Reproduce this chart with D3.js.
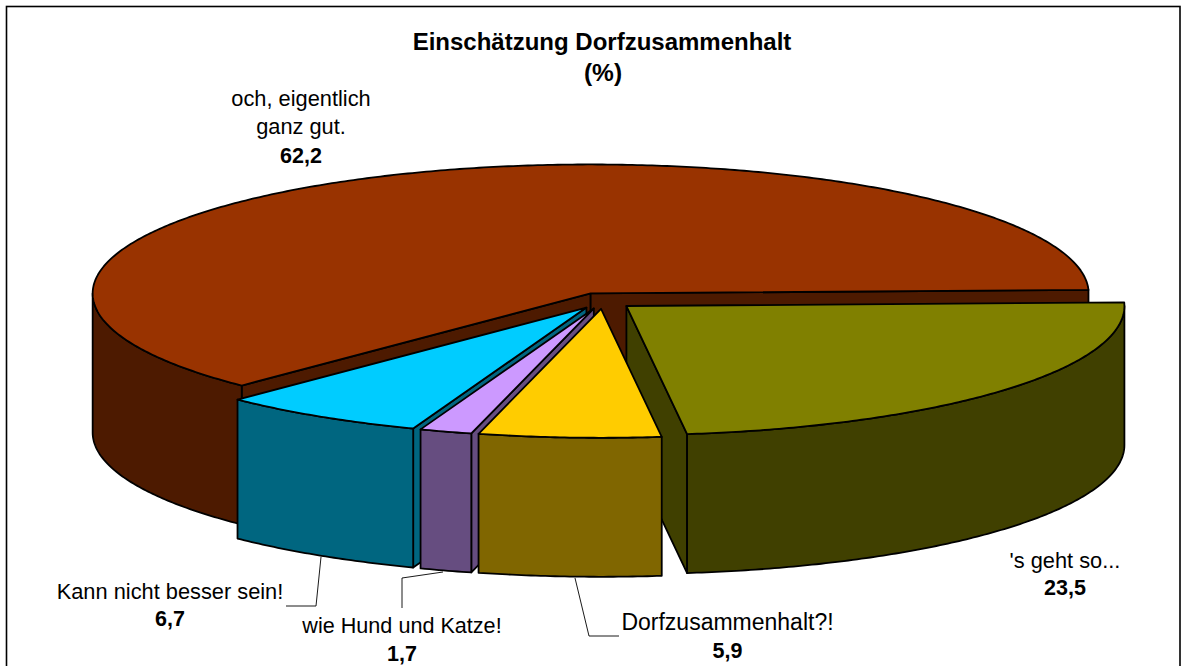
<!DOCTYPE html>
<html><head><meta charset="utf-8">
<script src="https://cdn.jsdelivr.net/npm/d3@7/dist/d3.min.js"></script>
<style>html,body{margin:0;padding:0;background:#fff}svg{display:block}text{font-family:"Liberation Sans",Arial,sans-serif;fill:#000}</style>
</head><body><svg id="c" width="1186" height="666"></svg>
<script>
const categories = ["'s geht so...","Dorfzusammenhalt?!","wie Hund und Katze!","Kann nicht besser sein!","och, eigentlich|ganz gut."];
const values = [23.5,5.9,1.7,6.7,62.2];
const valueLabels = ["23,5","5,9","1,7","6,7","62,2"];
const topColors = ["#808000","#FFCC00","#CC99FF","#00CCFF","#993300"];
const sideColors = ["#404000","#806600","#664D80","#006680","#4D1A00"];
const drawOrder = [4,0,3,2,1];

const svg=d3.select("#c");
svg.append("rect").attr("x",6.5).attr("y",6.5).attr("width",1173.5).attr("height",680).attr("fill","#fff").attr("stroke","#000").attr("stroke-width",1.6);

const cx=603,cy=300.8,rx=498,ry=129,depth=139,explode=0.062;
const start=-1.6*Math.PI/180;
const arcs=d3.pie().sort(null).startAngle(start).endAngle(start+2*Math.PI)(values);
const px=d3.scaleLinear().domain([-1,1]).range([-rx,rx]);
const py=d3.scaleLinear().domain([-1,1]).range([-ry,ry]);
const line=d3.line();

function rim(a0,a1,ox,oy,dy){
  const n=Math.max(2,Math.ceil((a1-a0)/0.01));
  return d3.range(n+1).map(i=>{const a=a0+(a1-a0)*i/n;return [ox+px(Math.cos(a)),oy+py(Math.sin(a))+dy];});
}
drawOrder.forEach(i=>{
  const d=arcs[i],mid=(d.startAngle+d.endAngle)/2;
  const ox=cx+px(explode*Math.cos(mid)),oy=cy+py(explode*Math.sin(mid));
  const g=svg.append("g");
  const poly=pts=>g.append("path").attr("d",line(pts)+"Z").attr("fill",sideColors[i]).attr("stroke","#000").attr("stroke-width",1.8).attr("stroke-linejoin","round");
  // cut faces: only the one turned towards the viewer
  [[d.startAngle,-1],[d.endAngle,1]].forEach(([a,sign])=>{
    if(Math.cos(a)*sign>0){
      const r=[ox+px(Math.cos(a)),oy+py(Math.sin(a))];
      poly([[ox,oy],r,[r[0],r[1]+depth],[ox,oy+depth]]);
    }
  });
  // outer side: the part of the rim on the near half of the ellipse
  [[0,Math.PI],[2*Math.PI,3*Math.PI]].forEach(([lo,hi])=>{
    const a0=Math.max(d.startAngle,lo),a1=Math.min(d.endAngle,hi);
    if(a1>a0){
      poly(rim(a0,a1,ox,oy,0).concat(rim(a0,a1,ox,oy,depth).reverse()));
    }
  });
  g.append("path").attr("d",line([[ox,oy]].concat(rim(d.startAngle,d.endAngle,ox,oy,0)))+"Z")
    .attr("fill",topColors[i]).attr("stroke","#000").attr("stroke-width",1.8).attr("stroke-linejoin","round");
});

const leaderPts=[null,[[575,578],[589,636],[619,636]],[[443,572],[402,578],[402,608]],[[321,557],[316,606],[286,606]],null];
leaderPts.forEach(p=>{ if(p) svg.append("path").attr("d",line(p)).attr("fill","none").attr("stroke","#000").attr("stroke-width",0.9); });

const text=(x,y,s,bold,size)=>svg.append("text").attr("x",x).attr("y",y).attr("text-anchor","middle").attr("font-size",size).attr("font-weight",bold?"bold":"normal").text(s);
text(602,50,"Einschätzung Dorfzusammenhalt",true,24);
text(603,81,"(%)",true,24.5);
const labelSizes=[21.8,23,21.6,21.8,21.8];
const labelPos=[[1065,568,595],[727.5,630,658],[402,633,661],[170,599,626],[301,106,163]];
categories.forEach((c,i)=>{
  const [x,y,vy]=labelPos[i];
  c.split("|").forEach((s,k)=>text(x,y+k*27.5,s,false,labelSizes[i]));
  text(x,vy,valueLabels[i],true,21.5);
});
</script></body></html>
